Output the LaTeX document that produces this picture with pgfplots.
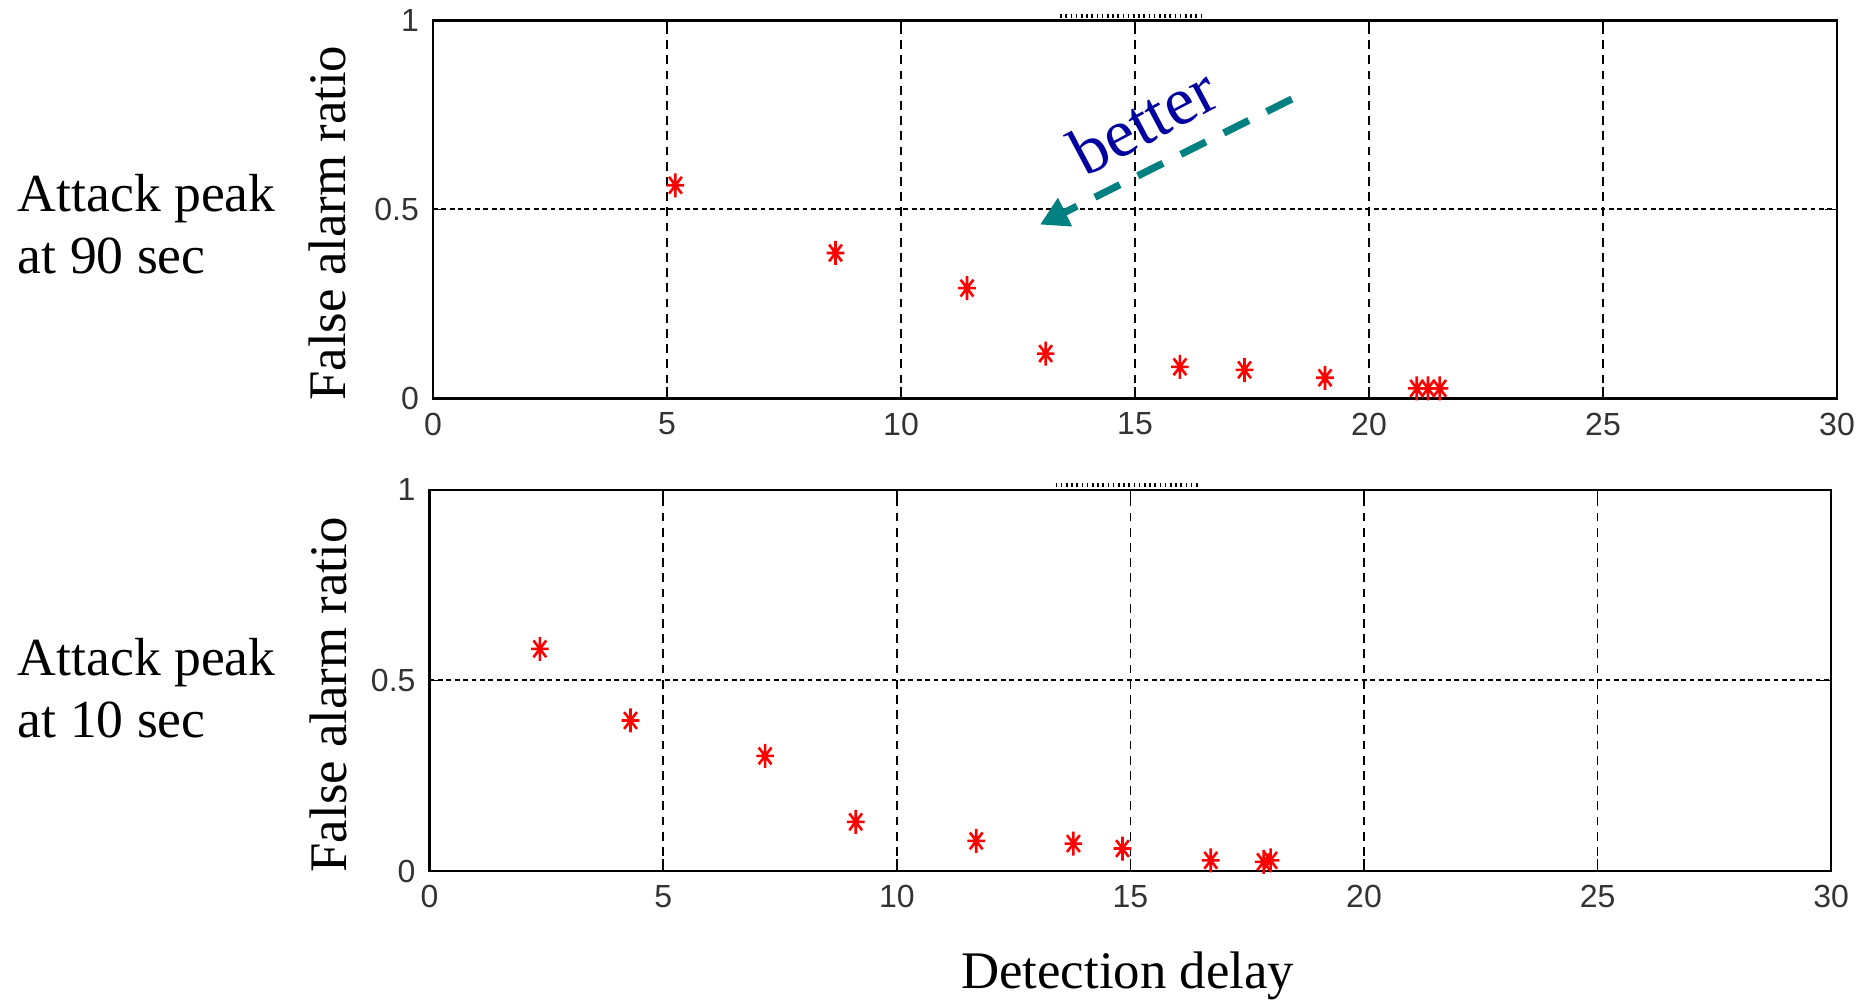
\documentclass[border=0pt]{standalone}
\usepackage{fontspec}
\setmainfont{Liberation Serif}
\newfontfamily\ticksf{Liberation Sans}
\usepackage{pgfplots}
\pgfplotsset{compat=1.18}
\usetikzlibrary{arrows.meta}
\definecolor{arrowteal}{RGB}{0,128,128}
\definecolor{betterblue}{RGB}{0,0,160}
\definecolor{markred}{RGB}{255,0,0}

\pgfdeclareplotmark{mstar}{%
  \pgfpathmoveto{\pgfqpoint{0pt}{-3pt}}\pgfpathlineto{\pgfqpoint{0pt}{3pt}}%
  \pgfpathmoveto{\pgfqpoint{-2.2pt}{0pt}}\pgfpathlineto{\pgfqpoint{2.2pt}{0pt}}%
  \pgfpathmoveto{\pgfqpoint{-1.6pt}{-2.1pt}}\pgfpathlineto{\pgfqpoint{1.6pt}{2.1pt}}%
  \pgfpathmoveto{\pgfqpoint{-1.6pt}{2.1pt}}\pgfpathlineto{\pgfqpoint{1.6pt}{-2.1pt}}%
  \pgfusepathqstroke}

\pgfplotstableread{
x y
5.18 0.564
8.60 0.385
11.41 0.292
13.09 0.119
15.96 0.084
17.34 0.076
19.06 0.055
21.02 0.027
21.26 0.027
21.51 0.027
}\tabA

\pgfplotstableread{
x y
2.36 0.583
4.30 0.395
7.18 0.302
9.12 0.129
11.70 0.079
13.78 0.072
14.83 0.059
16.72 0.028
17.85 0.024
18.00 0.028
}\tabB

\pgfplotsset{
  matstyle/.style={
    scale only axis,
    xmin=0, xmax=30, ymin=0, ymax=1,
    xtick={0,5,10,15,20,25,30},
    ytick={0,0.5,1}, yticklabels={0,0.5,1},
    grid=major,
    x grid style={black, dash pattern=on 2.2pt off 1.6pt, line width=0.4pt},
    y grid style={black, dash pattern=on 1.2pt off 0.9pt, line width=0.5pt},
    tick align=inside, major tick length=3pt,
    tick style={black, line width=0.4pt},
    axis line style={black, line width=0.6pt},
    ticklabel style={font=\ticksf\fontsize{8}{9}\selectfont, text=black!80},
    /pgf/number format/assume math mode=true,
    clip=false,
    ylabel={False alarm ratio},
    every axis y label/.style={rotate=90, anchor=center, font=\fontsize{13.2}{15}\selectfont},
  }
}

\begin{document}
\begin{tikzpicture}
\path[use as bounding box] (0,0) rectangle (467.75pt,250.75pt);

% top axis
\begin{axis}[matstyle,
  at={(108.25pt,151.1pt)}, anchor=south west,
  width=351pt, height=94.55pt,
  ylabel style={at={(axis description cs:-0.075,0.464)}},
]
\addplot[only marks, mark=mstar, color=markred, mark options={line width=0.65pt}] table[x=x,y=y] {\tabA};
\draw[arrowteal, line width=1.8pt, dash pattern=on 7pt off 5pt, -{Triangle[length=7pt,width=7.5pt]}]
  (axis cs:18.35,0.792) -- (axis cs:12.97,0.46);
\node[rotate=28, text=betterblue, font=\fontsize{17}{20}\selectfont] at (axis cs:15.17,0.735) {better};
\draw[black, line width=1pt, dash pattern=on 0.4pt off 0.9pt] ([yshift=1.2pt]axis cs:13.4,1) -- ([yshift=1.2pt]axis cs:16.5,1);
\end{axis}

% bottom axis
\begin{axis}[matstyle,
  at={(107.4pt,33pt)}, anchor=south west,
  width=350.4pt, height=95.25pt,
  ylabel style={at={(axis description cs:-0.0724,0.462)}},
  xlabel={Detection delay},
  every axis x label/.style={at={(axis description cs:0.498,-0.276)}, anchor=center, font=\fontsize{13.2}{15}\selectfont},
]
\addplot[only marks, mark=mstar, color=markred, mark options={line width=0.65pt}] table[x=x,y=y] {\tabB};
\draw[black, line width=1pt, dash pattern=on 0.4pt off 0.9pt] ([yshift=1.2pt]axis cs:13.4,1) -- ([yshift=1.2pt]axis cs:16.5,1);
\end{axis}

\node[anchor=west, align=left, inner sep=0pt, font=\fontsize{13.4}{15.5}\selectfont] at (4.3pt,194.75pt) {Attack peak\\at 90 sec};
\node[anchor=west, align=left, inner sep=0pt, font=\fontsize{13.4}{15.5}\selectfont] at (4.3pt,78.75pt) {Attack peak\\at 10 sec};
\end{tikzpicture}
\end{document}
